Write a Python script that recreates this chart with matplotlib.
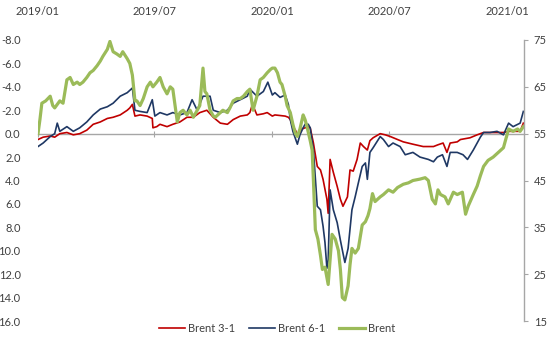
import matplotlib
matplotlib.use("Agg")
import matplotlib.pyplot as plt
import matplotlib.dates as mdates
import pandas as pd

plt.rcParams['font.family'] = ['Lato', 'DejaVu Sans']

# ---- data ----
brent_dates = ["2019-01-01","2019-01-04","2019-01-07","2019-01-13","2019-01-20","2019-01-24","2019-01-27",
 "2019-02-04","2019-02-09","2019-02-15","2019-02-20","2019-02-25","2019-03-03","2019-03-07","2019-03-12",
 "2019-03-18","2019-03-23","2019-03-28","2019-04-03","2019-04-08","2019-04-12","2019-04-19","2019-04-23",
 "2019-04-28","2019-05-04","2019-05-09","2019-05-13","2019-05-20","2019-05-24","2019-05-28","2019-06-01",
 "2019-06-04","2019-06-09","2019-06-14","2019-06-20","2019-06-25","2019-06-29","2019-07-05","2019-07-10",
 "2019-07-15","2019-07-21","2019-07-26","2019-07-30","2019-08-06","2019-08-10","2019-08-15","2019-08-21",
 "2019-08-26","2019-08-31","2019-09-06","2019-09-10","2019-09-15","2019-09-18","2019-09-21","2019-09-26",
 "2019-10-01","2019-10-04","2019-10-12","2019-10-16","2019-10-23","2019-10-27","2019-11-01","2019-11-07",
 "2019-11-12","2019-11-17","2019-11-23","2019-11-27","2019-12-02","2019-12-08","2019-12-13","2019-12-18",
 "2019-12-24","2019-12-29","2020-01-01","2020-01-05","2020-01-09","2020-01-13","2020-01-16","2020-01-21",
 "2020-01-24","2020-01-29","2020-02-02","2020-02-06","2020-02-09","2020-02-13","2020-02-18","2020-02-21",
 "2020-02-24","2020-02-29","2020-03-03","2020-03-05","2020-03-08","2020-03-12","2020-03-16","2020-03-19",
 "2020-03-23","2020-03-28","2020-03-31","2020-04-03","2020-04-08","2020-04-13","2020-04-16","2020-04-19",
 "2020-04-23","2020-04-28","2020-05-01","2020-05-04","2020-05-09","2020-05-14","2020-05-17","2020-05-20",
 "2020-05-25","2020-05-29","2020-06-01","2020-06-05","2020-06-09","2020-06-17","2020-06-22","2020-06-30",
 "2020-07-07","2020-07-14","2020-07-23","2020-07-31","2020-08-07","2020-08-18","2020-08-26","2020-08-31",
 "2020-09-06","2020-09-11","2020-09-15","2020-09-19","2020-09-26","2020-10-01","2020-10-09","2020-10-15",
 "2020-10-23","2020-10-28","2020-11-01","2020-11-09","2020-11-15","2020-11-20","2020-11-25","2020-12-02",
 "2020-12-10","2020-12-18","2020-12-26","2020-12-29","2021-01-03","2021-01-10","2021-01-17","2021-01-21",
 "2021-01-26"]
brent = [55, 58, 61.5, 62, 63, 61, 60.5,
 62, 61.5, 66.5, 67, 65.5, 66, 65.5, 66,
 67, 68, 68.5, 69.5, 70.5, 71.5, 73, 74.7,
 72.5, 72, 71.5, 72.5, 71, 70, 67.5, 62,
 62, 61, 62.5, 65, 66, 65, 66, 67,
 65, 63.5, 65, 64.5, 57.5, 59.5, 60, 59,
 60, 58.5, 60, 61, 69, 64, 63.5, 60,
 58.8, 58.5, 59.5, 60, 59.5, 60.5, 62, 62.5,
 62.5, 63, 64, 64.5, 60, 63, 66.5, 67,
 68, 68.7, 69, 69, 68, 66, 65.5, 63,
 61, 59.5, 57, 55, 54.4, 56, 59, 58,
 56.5, 53.5, 51.5, 45, 34.5, 32.5, 29, 26,
 26.5, 22.8, 28, 33.5, 32.5, 30, 26, 20,
 19.5, 22.5, 27, 30.5, 29.5, 30.5, 33, 35.5,
 36.2, 37.5, 39, 42.2, 40.5, 41.5, 42, 43,
 42.5, 43.5, 44.2, 44.5, 45, 45.3, 45.6, 45,
 41, 40, 43, 42, 41.5, 40, 42.5, 42,
 42.5, 37.8, 39.5, 42, 43.8, 46, 48, 49.3,
 50, 51, 52, 53.5, 56, 55.5, 56, 55.5,
 56.5]

spread31_dates = ["2019-01-01","2019-01-09","2019-01-20","2019-01-27","2019-02-04","2019-02-15","2019-02-25",
 "2019-03-07","2019-03-18","2019-03-28","2019-04-08","2019-04-19","2019-04-28","2019-05-09","2019-05-20",
 "2019-05-24","2019-05-28","2019-06-01","2019-06-09","2019-06-20","2019-06-28","2019-06-29","2019-07-05",
 "2019-07-10","2019-07-21","2019-07-30","2019-08-10","2019-08-21","2019-08-31","2019-09-10","2019-09-21",
 "2019-09-26","2019-10-01","2019-10-12","2019-10-23","2019-11-01","2019-11-12","2019-11-23","2019-11-27",
 "2019-12-01","2019-12-08","2019-12-18","2019-12-24","2020-01-01","2020-01-05","2020-01-21","2020-01-26",
 "2020-01-29","2020-02-02","2020-02-06","2020-02-10","2020-02-16","2020-02-21","2020-02-26","2020-02-29",
 "2020-03-05","2020-03-11","2020-03-16","2020-03-20","2020-03-26","2020-03-28","2020-03-31","2020-04-05",
 "2020-04-11","2020-04-16","2020-04-20","2020-04-27","2020-05-01","2020-05-06","2020-05-12","2020-05-17",
 "2020-05-22","2020-05-28","2020-06-01","2020-06-06","2020-06-17","2020-06-25","2020-07-03","2020-07-14",
 "2020-07-23","2020-08-07","2020-08-23","2020-09-08","2020-09-15","2020-09-23","2020-09-29","2020-10-04",
 "2020-10-15","2020-10-20","2020-11-04","2020-11-15","2020-11-25","2020-12-10","2020-12-26","2021-01-03",
 "2021-01-17","2021-01-21","2021-01-26"]
spread31 = [0.5, 0.3, 0.2, 0.3, 0.0, -0.1, 0.1,
 0.0, -0.3, -0.8, -1.0, -1.3, -1.4, -1.6, -2.0,
 -2.2, -2.5, -1.5, -1.6, -1.5, -1.3, -0.5, -0.6,
 -0.8, -0.6, -0.8, -1.0, -1.4, -1.4, -1.8, -2.0,
 -1.7, -1.4, -0.9, -0.8, -1.2, -1.5, -1.6, -1.8,
 -2.5, -1.6, -1.7, -1.8, -1.5, -1.6, -1.5, -1.4,
 -1.2, -0.6, -0.3, 0.2, -0.4, -0.5, -0.6, -0.5,
 0.8, 2.8, 3.1, 3.9, 5.6, 6.8, 2.2, 3.3,
 4.5, 5.6, 6.2, 5.4, 3.1, 3.2, 2.2, 0.8,
 1.1, 1.4, 0.6, 0.35, 0.0, 0.1, 0.25, 0.5,
 0.7, 0.9, 1.1, 1.1, 0.95, 0.8, 1.6, 0.8,
 0.7, 0.5, 0.35, 0.1, -0.1, -0.1, -0.1, -0.2,
 -0.2, -0.2, -0.9]

spread61_dates = ["2019-01-01","2019-01-09","2019-01-20","2019-01-27","2019-01-31","2019-02-04","2019-02-15",
 "2019-02-25","2019-03-07","2019-03-18","2019-03-28","2019-04-08","2019-04-19","2019-04-28","2019-05-09",
 "2019-05-20","2019-05-28","2019-06-01","2019-06-09","2019-06-20","2019-06-28","2019-07-02","2019-07-10",
 "2019-07-21","2019-07-30","2019-08-10","2019-08-21","2019-08-29","2019-09-06","2019-09-15","2019-09-26",
 "2019-10-01","2019-10-12","2019-10-23","2019-11-01","2019-11-12","2019-11-23","2019-11-27","2019-12-08",
 "2019-12-18","2019-12-25","2020-01-01","2020-01-05","2020-01-13","2020-01-21","2020-01-26","2020-01-29",
 "2020-02-02","2020-02-09","2020-02-13","2020-02-18","2020-02-21","2020-02-26","2020-02-29","2020-03-05",
 "2020-03-11","2020-03-16","2020-03-20","2020-03-23","2020-03-26","2020-03-28","2020-03-31","2020-04-05",
 "2020-04-11","2020-04-16","2020-04-20","2020-04-23","2020-04-28","2020-05-04","2020-05-09","2020-05-14",
 "2020-05-20","2020-05-25","2020-05-28","2020-06-01","2020-06-06","2020-06-17","2020-06-22","2020-06-30",
 "2020-07-07","2020-07-18","2020-07-26","2020-08-07","2020-08-18","2020-08-31","2020-09-08","2020-09-14",
 "2020-09-22","2020-09-29","2020-10-04","2020-10-15","2020-10-24","2020-10-31","2020-11-09","2020-11-20",
 "2020-11-25","2020-12-05","2020-12-16","2020-12-26","2021-01-03","2021-01-10","2021-01-21","2021-01-26"]
spread61 = [1.1, 0.8, 0.25, 0.0, -0.9, -0.2, -0.6,
 -0.2, -0.5, -1.0, -1.6, -2.1, -2.3, -2.6, -3.2,
 -3.5, -3.9, -2.0, -1.9, -1.8, -2.9, -1.5, -1.8,
 -1.6, -1.8, -1.6, -1.8, -2.9, -2.0, -3.2, -3.2,
 -2.0, -1.8, -2.0, -2.6, -2.9, -3.2, -3.8, -3.2,
 -3.6, -4.4, -3.3, -3.5, -3.1, -3.3, -2.5, -1.2,
 -0.2, 0.9, 0.1, -0.5, -0.8, -0.8, -0.5, 1.4,
 6.2, 6.5, 7.9, 9.3, 11.5, 10.8, 4.8, 6.5,
 7.6, 9.1, 10.2, 11.0, 9.8, 6.5, 5.4, 4.2,
 2.8, 2.5, 3.9, 1.6, 1.2, 0.25, 0.5, 1.1,
 0.8, 1.1, 1.8, 1.6, 2.0, 2.2, 2.4, 2.0,
 1.8, 2.8, 1.6, 1.6, 1.8, 2.2, 1.4, 0.3,
 -0.1, -0.1, -0.2, 0.1, -0.9, -0.6, -0.9, -1.9]

tick_dates = ["2019-01-01", "2019-07-01", "2020-01-01", "2020-07-01", "2021-01-01"]
tick_labels = ["2019/01", "2019/07", "2020/01", "2020/07", "2021/01"]
left_ticks = [-8, -6, -4, -2, 0, 2, 4, 6, 8, 10, 12, 14, 16]
right_ticks = [15, 25, 35, 45, 55, 65, 75]

# ---- styling ----
RED = "#C00000"
NAVY = "#1F3864"
GREEN = "#9BBB59"
GREY = "#A6A6A6"
TXT = "#404040"

fig = plt.figure(figsize=(5.5, 3.48), dpi=100)
ax = fig.add_axes([38/550, 1-321/348, (524-38)/550, (321-40)/348])
ax2 = ax.twinx()

l1, = ax.plot(pd.to_datetime(spread31_dates), spread31, color=RED, lw=1.2, label="Brent 3-1")
l2, = ax.plot(pd.to_datetime(spread61_dates), spread61, color=NAVY, lw=1.2, label="Brent 6-1")
l3, = ax2.plot(pd.to_datetime(brent_dates), brent, color=GREEN, lw=2.3, label="Brent")

ax.set_ylim(16, -8)
ax.set_yticks(left_ticks)
ax.set_yticklabels([f"{v:.1f}" for v in left_ticks])
ax2.set_ylim(15, 75)
ax2.set_yticks(right_ticks)

ax.set_xlim(pd.Timestamp("2019-01-01"), pd.Timestamp("2021-01-27"))
ax.set_xticks(pd.to_datetime(tick_dates))
ax.set_xticklabels(tick_labels)

for s in ["left", "top", "right"]:
    ax.spines[s].set_visible(False)
ax.spines["bottom"].set_position(("data", 0))
ax.spines["bottom"].set_color(GREY)
ax.spines["bottom"].set_linewidth(1.0)
ax.spines["bottom"].set_zorder(0.5)

for s in ["left", "top", "bottom"]:
    ax2.spines[s].set_visible(False)
ax2.spines["right"].set_color(GREY)
ax2.spines["right"].set_linewidth(1.0)

ax.tick_params(axis="x", which="both", bottom=True, top=False, labelbottom=False,
               labeltop=True, direction="inout", length=5, color=GREY, pad=14,
               labelsize=8, labelcolor=TXT)
ax.tick_params(axis="y", left=False, labelsize=8, labelcolor=TXT, pad=9)
ax2.tick_params(axis="y", right=True, direction="out", length=3, color=GREY,
                labelsize=8, labelcolor=TXT, pad=4)

fig.legend(handles=[l1, l2, l3], loc="center", bbox_to_anchor=(277/550, 1-328/348),
           ncol=3, frameon=False, fontsize=8, handlelength=2.4, columnspacing=1.2,
           handletextpad=0.25, labelcolor=TXT)

fig.savefig("out.png", dpi=100)
